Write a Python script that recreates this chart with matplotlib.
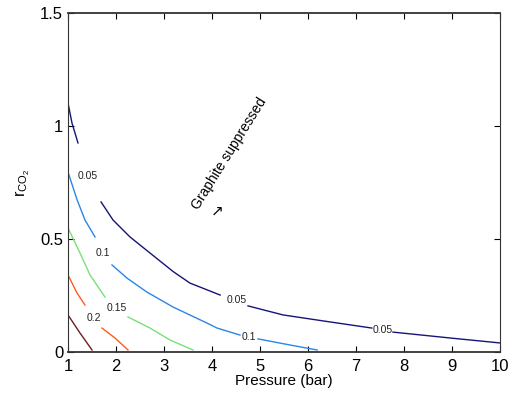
import matplotlib.pyplot as plt

nan = float('nan')

plt.rcParams['font.family'] = ['Liberation Sans', 'DejaVu Sans']
plt.rcParams['mathtext.fontset'] = 'custom'
plt.rcParams['mathtext.rm'] = 'Liberation Sans'

# contour levels (nan = gap left for the inline label)
levels = [0.05, 0.1, 0.15, 0.2, 0.25]
colors = ['#14147a', '#2a86e8', '#78e078', '#ff5a1e', '#6e1e1e']

x_005 = [1.0, 1.083, 1.208, nan, 1.688, 1.938, 2.292, 2.708, 3.19, 3.54, 4.17, nan,
         4.75, 5.48, 6.46, 7.33, nan, 7.77, 8.96, 10.0]
y_005 = [1.102, 1.013, 0.925, nan, 0.664, 0.584, 0.509, 0.438, 0.356, 0.305, 0.252, nan,
         0.204, 0.164, 0.133, 0.106, nan, 0.088, 0.062, 0.040]

x_010 = [1.0, 1.19, 1.354, 1.563, nan, 1.917, 2.229, 2.646, 3.188, 3.896, 4.104, 4.583, nan,
         4.958, 5.625, 6.19]
y_010 = [0.796, 0.673, 0.584, 0.509, nan, 0.385, 0.327, 0.265, 0.199, 0.128, 0.106, 0.075, nan,
         0.058, 0.031, 0.009]

x_015 = [1.0, 1.25, 1.458, 1.771, nan, 2.25, 2.708, 3.125, 3.604]
y_015 = [0.549, 0.438, 0.341, 0.243, nan, 0.155, 0.106, 0.053, 0.009]

x_020 = [1.0, 1.188, 1.354, nan, 1.708, 1.979, 2.25]
y_020 = [0.341, 0.261, 0.208, nan, 0.106, 0.062, 0.009]

x_025 = [1.0, 1.25, 1.5]
y_025 = [0.164, 0.084, 0.009]

curves = [(x_005, y_005), (x_010, y_010), (x_015, y_015), (x_020, y_020), (x_025, y_025)]

# inline contour labels (text, x, y)
labels = [('0.05', 1.42, 0.78), ('0.05', 4.52, 0.23), ('0.05', 7.56, 0.097),
          ('0.1', 1.73, 0.44), ('0.1', 4.77, 0.066),
          ('0.15', 2.02, 0.195), ('0.2', 1.54, 0.15)]

fig = plt.figure(figsize=(5.13, 3.98), dpi=100)
ax = fig.add_axes([68 / 513, 46 / 398, 432 / 513, 339 / 398])

for (xs, ys), c in zip(curves, colors):
    ax.plot(xs, ys, color=c, lw=1.0)

for t, lx, ly in labels:
    ax.text(lx, ly, t, fontsize=7.5, ha='center', va='center', color='#222222')

ax.text(4.35, 0.88, 'Graphite suppressed', rotation=58, fontsize=10,
        ha='center', va='center')
ax.text(4.1, 0.62, '\u2197', fontsize=11, ha='center', va='center')

ax.set_xlim(1, 10)
ax.set_ylim(0, 1.5)
ax.set_xticks(range(1, 11))
ax.set_yticks([0, 0.5, 1, 1.5])
ax.set_yticklabels(['0', '0.5', '1', '1.5'])
ax.tick_params(direction='in', top=True, right=True, labelsize=12, length=4)
ax.tick_params(axis='x', pad=5)
for s in ax.spines.values():
    s.set_color('#333333')
ax.spines['bottom'].set_linewidth(1.3)
ax.spines['top'].set_linewidth(1.3)

ax.set_xlabel('Pressure (bar)', fontsize=11, labelpad=0)
ax.set_ylabel(r'$\mathregular{r_{CO_2}}$', fontsize=11.5, labelpad=6)

fig.savefig('out.png', dpi=100)
